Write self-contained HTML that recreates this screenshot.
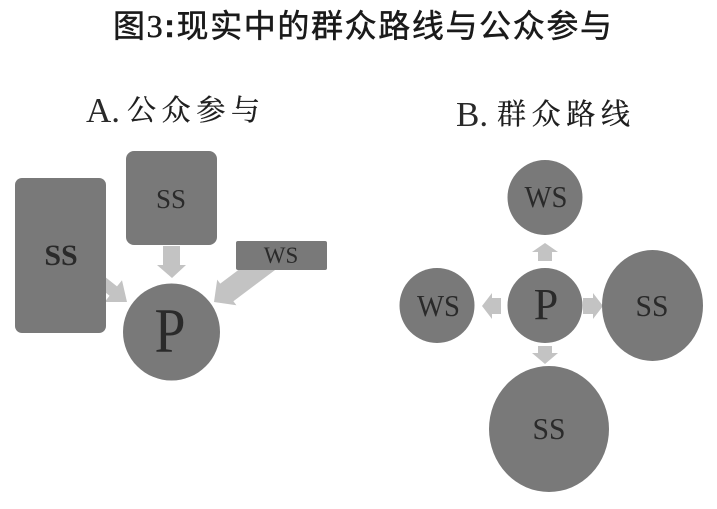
<!DOCTYPE html>
<html>
<head>
<meta charset="utf-8">
<style>
  html, body { margin: 0; padding: 0; background: #ffffff; }
  svg { display: block; }
  .lat { font-family: "Liberation Serif", serif; fill: #2a2a2a; }
  .cjk { font-family: "Liberation Serif", "Noto Serif CJK SC", serif; fill: #1e1e1e; stroke: #1e1e1e; stroke-width: 0.35; }
  .title { font-family: "Liberation Sans", "Noto Sans CJK SC", sans-serif; fill: #1a1a1a; stroke: #1a1a1a; stroke-width: 0.5; }
</style>
</head>
<body>
<svg width="717" height="509" viewBox="0 0 717 509" xmlns="http://www.w3.org/2000/svg">
  <rect x="0" y="0" width="717" height="509" fill="#ffffff"/>

  <!-- Title -->
  <text class="title" x="113" y="37" font-size="32" textLength="499" lengthAdjust="spacing">图<tspan font-family="Liberation Serif, serif">3</tspan><tspan font-weight="bold">:</tspan>现实中的群众路线与公众参与</text>

  <!-- Section labels -->
  <text class="lat" x="86" y="122" font-size="35">A.</text>
  <text class="cjk" x="127" y="120" font-size="29" textLength="133" lengthAdjust="spacing">公众参与</text>

  <text class="lat" x="456" y="126" font-size="35">B.</text>
  <text class="cjk" x="497" y="124" font-size="29" textLength="133" lengthAdjust="spacing">群众路线</text>

  <!-- ===== Panel A ===== -->
  <polygon fill="#c3c3c3" points="85.8,261.6 117,286.4 122,280.2 127,302 104.6,302 109.6,295.8 78.4,271"/>
  <polygon fill="#c3c3c3" points="268.2,247.6 220.2,283.6 217.2,279.6 214,302 236.4,305.2 233.4,301.2 281.4,265.2"/>
  <polygon fill="#c3c3c3" points="163,246 180,246 180,265 186,265 172,278 157,265 163,265"/>

  <rect x="15" y="178" width="91" height="155" rx="7" ry="7" fill="#797979"/>
  <text class="lat" x="61" y="265" font-size="30" text-anchor="middle" font-weight="bold" fill="#333">SS</text>

  <rect x="126" y="151" width="91" height="94" rx="8" ry="8" fill="#797979"/>
  <text class="lat" x="171" y="208" font-size="27" text-anchor="middle">SS</text>

  <rect x="236" y="241" width="91" height="29" rx="2" ry="2" fill="#797979"/>
  <text class="lat" x="281" y="263" font-size="23" text-anchor="middle">WS</text>

  <circle cx="171.5" cy="332" r="48.5" fill="#797979"/>
  <text class="lat" x="170" y="352" font-size="64" text-anchor="middle" textLength="31" lengthAdjust="spacingAndGlyphs">P</text>

  <!-- ===== Panel B ===== -->
  <polygon fill="#c3c3c3" points="538,261 538,252 532,252 545,243 558,252 552,252 552,261"/>
  <polygon fill="#c3c3c3" points="538,346 552,346 552,353 558,353 545,364 532,353 538,353"/>
  <polygon fill="#c3c3c3" points="501,298 492,298 492,293 482,306 492,319 492,314 501,314"/>
  <polygon fill="#c3c3c3" points="583,298 593,298 593,293 603,306 593,319 593,314 583,314"/>

  <circle cx="545" cy="197.5" r="37.5" fill="#797979"/>
  <text class="lat" x="546" y="207" font-size="31" text-anchor="middle" textLength="43" lengthAdjust="spacingAndGlyphs">WS</text>

  <circle cx="545" cy="305.5" r="37.5" fill="#797979"/>
  <text class="lat" x="546" y="319" font-size="44" text-anchor="middle">P</text>

  <circle cx="437" cy="305.5" r="37.5" fill="#797979"/>
  <text class="lat" x="438.5" y="316" font-size="31" text-anchor="middle" textLength="43" lengthAdjust="spacingAndGlyphs">WS</text>

  <ellipse cx="652.5" cy="305.5" rx="50.5" ry="55.5" fill="#797979"/>
  <text class="lat" x="652" y="316" font-size="31" text-anchor="middle" textLength="33" lengthAdjust="spacingAndGlyphs">SS</text>

  <ellipse cx="549" cy="429" rx="60" ry="63" fill="#797979"/>
  <text class="lat" x="549" y="439" font-size="31" text-anchor="middle" textLength="33" lengthAdjust="spacingAndGlyphs">SS</text>
</svg>
</body>
</html>
